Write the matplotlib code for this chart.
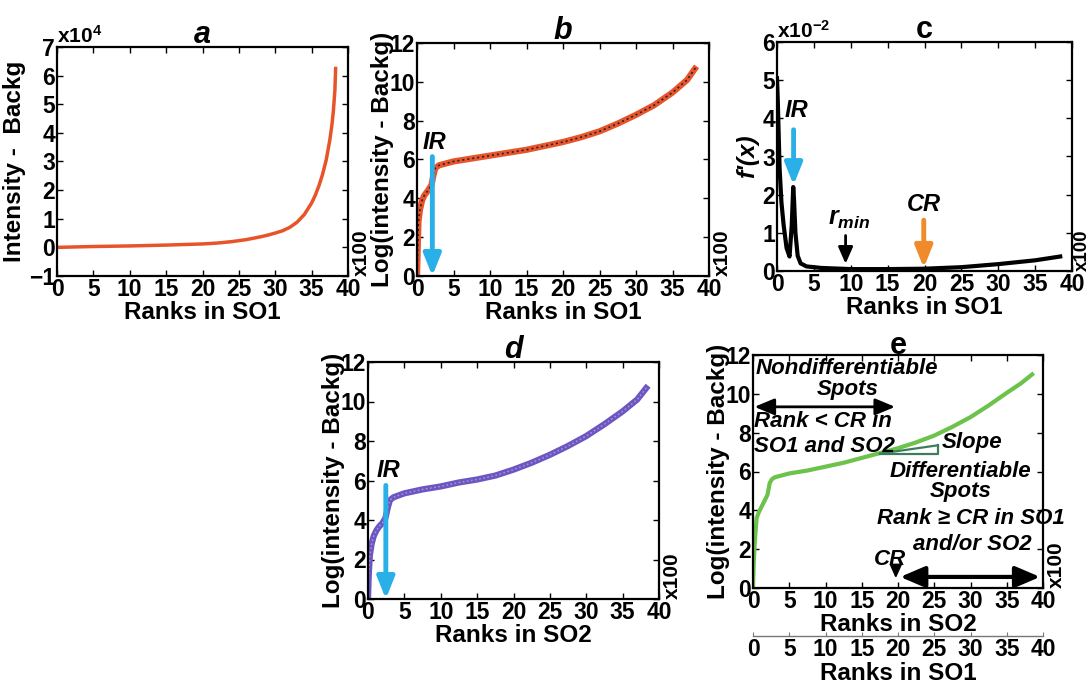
import matplotlib
matplotlib.use("Agg")
import matplotlib.pyplot as plt

plt.rcParams['font.family'] = ['Liberation Sans', 'DejaVu Sans']
plt.rcParams['font.weight'] = 'bold'
plt.rcParams['mathtext.fontset'] = 'custom'
plt.rcParams['mathtext.rm'] = 'Liberation Sans:bold'
plt.rcParams['mathtext.it'] = 'Liberation Sans:bold:italic'
plt.rcParams['mathtext.bf'] = 'Liberation Sans:bold'

# ---------------- data (ranks in hundreds) ----------------
# a: Intensity - Backg (x10^4) vs rank in SO1
xa = [0, 5, 10, 15, 20, 22, 24, 26, 28, 29, 30, 31, 32, 33, 34, 35, 35.5, 36, 36.5, 37,
      37.5, 37.8, 38.0, 38.2, 38.3]
ya = [0.0, 0.03, 0.05, 0.08, 0.12, 0.15, 0.2, 0.27, 0.37, 0.43, 0.5, 0.58, 0.7, 0.88, 1.15,
      1.55, 1.82, 2.15, 2.55, 3.05, 3.75, 4.3, 4.8, 5.5, 6.25]

# b: Log(intensity - Backg) vs rank in SO1
xb = [0, 0.1, 0.2, 0.4, 0.7, 1.0, 1.5, 2.0, 2.2, 2.5, 3.0, 4, 5, 7.5, 10, 12.5, 15, 17.5,
      20, 22.5, 25, 27.5, 30, 32.5, 35, 37, 38.3]
yb = [0, 1.5, 2.8, 3.4, 3.9, 4.15, 4.4, 4.7, 5.1, 5.55, 5.7, 5.8, 5.9, 6.05, 6.2, 6.35, 6.5, 6.7,
      6.9, 7.15, 7.45, 7.85, 8.3, 8.8, 9.45, 10.1, 10.8]

# c: f'(x) (x10^-2) vs rank in SO1
xc = [0, 0.1, 0.35, 0.6, 0.9, 1.3, 1.7, 2.0, 2.2, 2.3, 2.5, 2.8, 3.2, 4, 6, 10, 15, 20, 25,
      30, 35, 38.4]
yc = [5.05, 4.5, 2.7, 1.8, 1.2, 0.6, 0.38, 1.2, 2.2, 1.9, 1.0, 0.4, 0.2, 0.12, 0.08, 0.05, 0.05,
      0.06, 0.1, 0.18, 0.28, 0.38]

# d: Log(intensity - Backg) vs rank in SO2
xd = [0, 0.1, 0.25, 0.5, 0.8, 1.2, 1.6, 2.0, 2.4, 2.7, 3.0, 3.5, 5, 7.5, 10, 12.5, 15, 17.5,
      20, 22.5, 25, 27.5, 30, 32.5, 35, 37, 38.5]
yd = [0, 1.2, 2.2, 2.8, 3.2, 3.5, 3.7, 3.85, 4.1, 4.6, 5.0, 5.15, 5.35, 5.55, 5.7, 5.9, 6.05, 6.25,
      6.55, 6.9, 7.3, 7.75, 8.25, 8.85, 9.5, 10.1, 10.8]

# e: Log(intensity - Backg) vs rank in SO2
xe = [0, 0.1, 0.25, 0.5, 0.8, 1.2, 1.6, 2.0, 2.3, 2.6, 3.0, 4, 5, 7.5, 10, 12.5, 15, 17.5,
      20, 22.5, 25, 27.5, 30, 32.5, 35, 37, 38.5]
ye = [0, 1.3, 2.4, 3.6, 3.9, 4.2, 4.5, 4.8, 5.4, 5.6, 5.7, 5.8, 5.9, 6.05, 6.25, 6.45, 6.7, 6.95,
      7.2, 7.5, 7.85, 8.3, 8.8, 9.4, 10.05, 10.55, 11.0]

xticks = [0, 5, 10, 15, 20, 25, 30, 35, 40]
IR_b, IR_c, IR_d = 2.1, 2.25, 2.45
RMIN, CR = 9.3, 19.9

TICK_FS = 16.5
LAB_FS = 17.5
TITLE_FS = 22

W, H = 1091, 684
fig = plt.figure(figsize=(W / 100, H / 100), dpi=100)


def make_ax(l, t, r, b):
    ax = fig.add_axes([l / W, 1 - b / H, (r - l) / W, (b - t) / H])
    for s in ax.spines.values():
        s.set_linewidth(1.6)
    ax.tick_params(direction='in', top=True, right=True, length=4, width=1,
                   labelsize=TICK_FS, pad=1.5)
    ax.set_xlim(0, 40)
    ax.set_xticks(xticks)
    for lab in ax.get_xticklabels() + ax.get_yticklabels():
        lab.set_fontweight('bold')
    return ax


def x100(ax, fs=15, dx=1.012):
    ax.text(dx, 0.0, 'x100', transform=ax.transAxes, rotation=90, fontsize=fs,
            fontweight='bold', ha='left', va='bottom')


def down_arrow(ax, x, y0, y1, color, lw=3.5, hl=0.65, hw=0.26):
    ax.annotate('', xy=(x, y1), xytext=(x, y0),
                arrowprops=dict(arrowstyle='-|>,head_length=%g,head_width=%g' % (hl, hw),
                                color=color, lw=lw, shrinkA=0, shrinkB=0,
                                mutation_scale=20), annotation_clip=False)


# ---------------- a ----------------
ax = make_ax(57, 47, 348, 276)
ax.plot(xa, ya, color='#e8542a', lw=2.5)
ax.set_ylim(-1, 7)
ax.set_yticks(range(-1, 8))
ax.set_xlabel('Ranks in SO1', fontsize=LAB_FS, fontweight='bold', labelpad=0)
ax.set_ylabel('Intensity -  Backg', fontsize=LAB_FS, fontweight='bold', labelpad=2)
ax.set_title('a', fontsize=TITLE_FS, fontweight='bold', style='italic', pad=3)
ax.text(0.0, 1.0, 'x10$^{4}$', transform=ax.transAxes, fontsize=15, ha='left', va='bottom')
x100(ax)

# ---------------- b ----------------
ax = make_ax(417, 43, 709, 276)
ax.plot(xb, yb, color='#e8552c', lw=4.5, solid_capstyle='butt')
ax.plot(xb, yb, color='#222222', lw=1.2, linestyle=(0, (1.2, 1.8)))
ax.set_ylim(0, 12)
ax.set_yticks(range(0, 13, 2))
ax.set_xlabel('Ranks in SO1', fontsize=LAB_FS, fontweight='bold', labelpad=0)
ax.set_ylabel('Log(intensity - Backg)', fontsize=LAB_FS, fontweight='bold', labelpad=-3)
ax.set_title('b', fontsize=TITLE_FS, fontweight='bold', style='italic', pad=3)
down_arrow(ax, IR_b, 6.15, 0.0, '#2ab0e8')
ax.text(IR_b + 0.3, 6.3, 'IR', fontsize=17, fontweight='bold', style='italic',
        ha='center', va='bottom')
x100(ax)

# ---------------- c ----------------
ax = make_ax(777, 42, 1072, 271)
ax.plot(xc, yc, color='black', lw=3)
ax.set_ylim(0, 6)
ax.set_yticks(range(0, 7))
ax.set_xlabel('Ranks in SO1', fontsize=LAB_FS, fontweight='bold', labelpad=0)
ax.set_ylabel("f'(x)", fontsize=LAB_FS, fontweight='bold', style='italic', labelpad=2)
ax.set_title('c', fontsize=TITLE_FS, fontweight='bold', pad=3)
ax.text(0.0, 1.0, 'x10$^{-2}$', transform=ax.transAxes, fontsize=15, ha='left', va='bottom')
down_arrow(ax, IR_c, 3.7, 2.25, '#2ab0e8')
ax.text(IR_c + 0.4, 3.9, 'IR', fontsize=17, fontweight='bold', style='italic',
        ha='center', va='bottom')
down_arrow(ax, RMIN, 0.93, 0.19, 'black', lw=2, hl=0.5, hw=0.22)
ax.text(RMIN + 0.5, 1.05, '$r_{min}$', fontsize=18, ha='center', va='bottom')
down_arrow(ax, CR, 1.33, 0.08, '#f08a2a')
ax.text(CR, 1.45, 'CR', fontsize=17, fontweight='bold', style='italic',
        ha='center', va='bottom')
x100(ax, fs=13.5, dx=1.006)

# ---------------- d ----------------
ax = make_ax(368, 362, 659, 599)
ax.plot(xd, yd, color='#6a58c2', lw=4.5, solid_capstyle='butt')
ax.plot(xd, yd, color='#c58ad6', lw=1.0, linestyle=(0, (1.2, 1.8)))
ax.set_ylim(0, 12)
ax.set_yticks(range(0, 13, 2))
ax.set_xlabel('Ranks in SO2', fontsize=LAB_FS, fontweight='bold', labelpad=0)
ax.set_ylabel('Log(intensity - Backg)', fontsize=LAB_FS, fontweight='bold', labelpad=-3)
ax.set_title('d', fontsize=TITLE_FS, fontweight='bold', style='italic', pad=3)
down_arrow(ax, IR_d, 5.75, 0.0, '#2ab0e8')
ax.text(IR_d + 0.3, 5.9, 'IR', fontsize=17, fontweight='bold', style='italic',
        ha='center', va='bottom')
x100(ax)

# ---------------- e ----------------
ax = make_ax(753, 355, 1043, 588)
ax.plot(xe, ye, color='#6cc24a', lw=3)
ax.set_ylim(0, 12)
ax.set_yticks(range(0, 13, 2))
ax.set_xlabel('Ranks in SO2', fontsize=LAB_FS, fontweight='bold', labelpad=0)
ax.set_ylabel('Log(intensity - Backg)', fontsize=LAB_FS, fontweight='bold', labelpad=-3)
ax.set_title('e', fontsize=TITLE_FS, fontweight='bold', pad=1)
txt = dict(fontsize=16, fontweight='bold', style='italic')
ax.text(12.9, 11.3, 'Nondifferentiable', ha='center', va='center', **txt)
ax.text(13.1, 10.2, 'Spots', ha='center', va='center', **txt)
ax.annotate('', xy=(0.2, 9.33), xytext=(19.6, 9.33),
            arrowprops=dict(arrowstyle='<|-|>,head_length=0.6,head_width=0.25', color='black',
                            lw=2, shrinkA=0, shrinkB=0, mutation_scale=20))
ax.text(0.2, 8.6, 'Rank < CR in', ha='left', va='center', **txt)
ax.text(0.2, 7.27, 'SO1 and SO2', ha='left', va='center', **txt)
ax.plot([17.5, 25.5, 25.5], [6.92, 6.92, 7.35], color='#3d7d5c', lw=1.6)
ax.plot([17.5, 25.5], [6.92, 7.35], color='#3d7d5c', lw=1.6)
ax.text(26.0, 7.5, 'Slope', ha='left', va='center', **txt)
ax.text(28.6, 6.0, 'Differentiable', ha='center', va='center', **txt)
ax.text(28.6, 4.95, 'Spots', ha='center', va='center', **txt)
ax.text(30.0, 3.57, 'Rank \u2265 CR in SO1', ha='center', va='center', clip_on=False, **txt)
ax.text(30.2, 2.25, 'and/or SO2', ha='center', va='center', **txt)
ax.text(18.9, 1.45, 'CR', ha='center', va='center', **txt)
down_arrow(ax, 19.7, 1.05, 0.5, 'black', lw=1.5, hl=0.4, hw=0.18)
ax.annotate('', xy=(20.3, 0.57), xytext=(39.6, 0.57),
            arrowprops=dict(arrowstyle='<|-|>,head_length=0.75,head_width=0.32', color='black',
                            lw=3, shrinkA=0, shrinkB=0, mutation_scale=20),
            annotation_clip=False)
x100(ax)

sec = ax.secondary_xaxis(-0.205)
sec.set_xticks(xticks)
sec.spines['bottom'].set_color('#777777')
sec.spines['bottom'].set_linewidth(1)
sec.tick_params(direction='in', length=3, width=0.8, color='#777777', labelsize=TICK_FS, pad=1.5)
for lab in sec.get_xticklabels():
    lab.set_fontweight('bold')
sec.set_xlabel('Ranks in SO1', fontsize=LAB_FS, fontweight='bold', labelpad=1)

fig.savefig('out.png', dpi=100)
